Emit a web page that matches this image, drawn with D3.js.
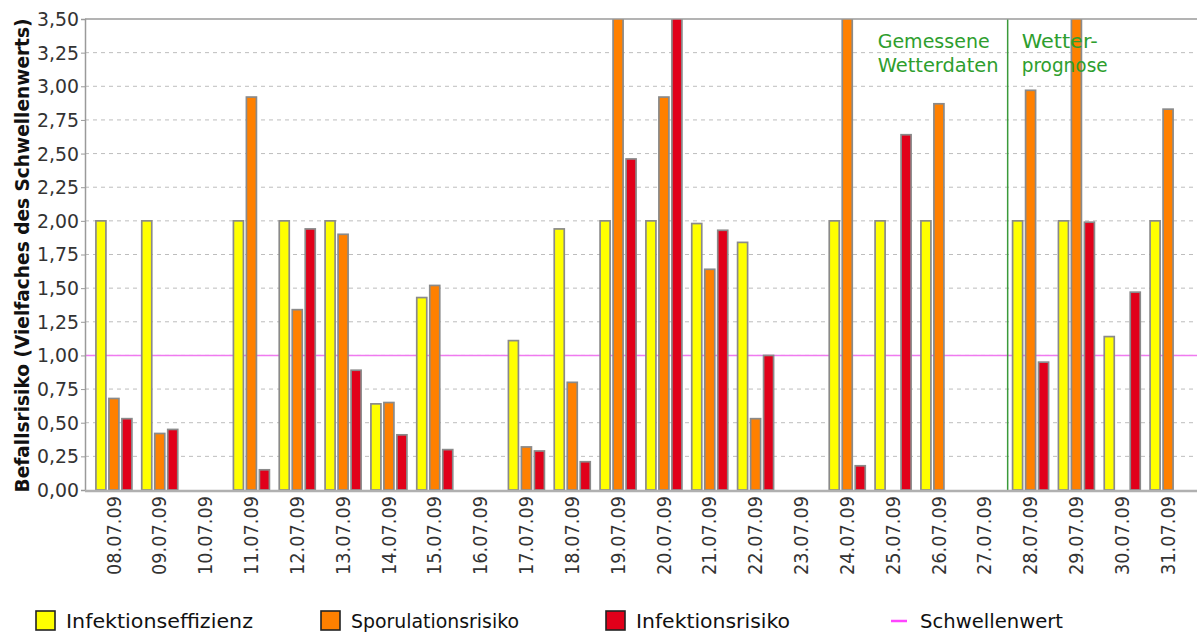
<!DOCTYPE html>
<html><head><meta charset="utf-8">
<script src="https://cdn.jsdelivr.net/npm/d3@7"></script>
<style>
body{margin:0;background:#fff;}
text{font-family:"DejaVu Sans",sans-serif;}
</style></head>
<body><svg id="c" width="1197" height="633"></svg>
<script>
const dates = ["08.07.09","09.07.09","10.07.09","11.07.09","12.07.09","13.07.09","14.07.09","15.07.09","16.07.09","17.07.09","18.07.09","19.07.09","20.07.09","21.07.09","22.07.09","23.07.09","24.07.09","25.07.09","26.07.09","27.07.09","28.07.09","29.07.09","30.07.09","31.07.09"];
const infektionseffizienz = [2.00,2.00,0,2.00,2.00,2.00,0.64,1.43,0,1.11,1.94,2.00,2.00,1.98,1.84,0,2.00,2.00,2.00,0,2.00,2.00,1.14,2.00];
const sporulationsrisiko  = [0.68,0.42,0,2.92,1.34,1.90,0.65,1.52,0,0.32,0.80,3.80,2.92,1.64,0.53,0,3.80,0,2.87,0,2.97,3.80,0,2.83];
const infektionsrisiko    = [0.53,0.45,0,0.15,1.94,0.89,0.41,0.30,0,0.29,0.21,2.46,3.80,1.93,1.00,0,0.18,2.64,0,0,0.95,1.99,1.47,0];
const schwellenwert = 1.0;
const yTicks = [0,0.25,0.5,0.75,1,1.25,1.5,1.75,2,2.25,2.5,2.75,3,3.25,3.5];
const seriesNames = ["Infektionseffizienz","Sporulationsrisiko","Infektionsrisiko"];
const thresholdName = "Schwellenwert";
const seriesColors = ["#ffff00","#ff8000","#e1001a"];
const forecastStart = "28.07.09";
const leftNote = ["Gemessene","Wetterdaten"];
const rightNote = ["Wetter-","prognose"];
const yTitle = "Befallsrisiko (Vielfaches des Schwellenwerts)";

const svg = d3.select("#c");
const L = 85, T = 19, B = 490, R = 1197;
const x = d3.scaleBand().domain(dates).range([91, 1191]).padding(0);
const xi = d3.scaleBand().domain(seriesNames).range([0, 36]).paddingInner(0.23).paddingOuter(0);
const y = d3.scaleLinear().domain([0, 3.5]).range([B, T]);

// width helper: condensed look via textLength
const fit = (sel, w) => sel.attr("textLength", w).attr("lengthAdjust", "spacingAndGlyphs");

svg.append("defs").append("clipPath").attr("id","pc").append("rect")
  .attr("x",L).attr("y",T).attr("width",R-L).attr("height",B-T);

// gridlines
svg.append("g").selectAll("line").data(yTicks.filter(v=>v>0 && v<3.5)).join("line")
  .attr("x1",L).attr("x2",R).attr("y1",d=>y(d)).attr("y2",d=>y(d))
  .attr("stroke","#bdbdbd").attr("stroke-width",1).attr("stroke-dasharray","4,4");

// threshold line
svg.append("line").attr("x1",L).attr("x2",R).attr("y1",y(schwellenwert)).attr("y2",y(schwellenwert))
  .attr("stroke","#f07af0").attr("stroke-width",1.5);

// bars
const data = [infektionseffizienz, sporulationsrisiko, infektionsrisiko];
const gb = svg.append("g").attr("clip-path","url(#pc)");
seriesNames.forEach((s,si)=>{
  const arr = data[si];
  gb.append("g").selectAll("rect").data(dates.map((d,i)=>({d,v:arr[i]})).filter(o=>o.v>0)).join("rect")
    .attr("x",o=>x(o.d)+x.bandwidth()/2-18+xi(s))
    .attr("width",xi.bandwidth())
    .attr("y",o=>y(o.v))
    .attr("height",o=>B-y(o.v))
    .attr("fill",seriesColors[si])
    .attr("stroke","#8a8a8a").attr("stroke-width",1.7);
});

// forecast marker
const mx = x(forecastStart);
svg.append("line").attr("x1",mx).attr("x2",mx).attr("y1",T).attr("y2",B)
  .attr("stroke","#3a9a3a").attr("stroke-width",1.5);
const noteW = {"Gemessene":112,"Wetterdaten":121,"Wetter-":76,"prognose":86};
[[leftNote, mx-130],[rightNote, mx+14]].forEach(([lines, lx])=>{
  lines.forEach((t,i)=>{
    fit(svg.append("text").attr("x",lx).attr("y",48+i*24).attr("font-size",19)
      .attr("fill","#2e9e2e").text(t), noteW[t]);
  });
});

// top frame
svg.append("line").attr("x1",L).attr("x2",R).attr("y1",T).attr("y2",T).attr("stroke","#9a9a9a").attr("stroke-width",1.5);

// y axis
const ya = svg.append("g").attr("transform",`translate(${L},0)`)
  .call(d3.axisLeft(y).tickValues(yTicks).tickSize(4).tickPadding(2).tickFormat(v=>d3.format(".2f")(v).replace(".",",")));
ya.select(".domain").attr("stroke","#9a9a9a").attr("stroke-width",1.5);
ya.selectAll(".tick line").attr("stroke","#9a9a9a");
ya.selectAll(".tick text").attr("font-size",19).attr("fill","#333").attr("font-family","DejaVu Sans, sans-serif")
  .attr("dy","0.34em").attr("textLength",42).attr("lengthAdjust","spacingAndGlyphs");

// x axis
const xa = svg.append("g").attr("transform",`translate(0,${B})`)
  .call(d3.axisBottom(x).tickSize(0).tickPadding(0));
xa.select(".domain").attr("stroke","#b0b0b0").attr("stroke-width",2.5).attr("d",`M${L},1H${R}`);
xa.selectAll(".tick text").attr("font-size",19).attr("fill","#333").attr("font-family","DejaVu Sans, sans-serif")
  .attr("text-anchor","end").attr("dy","0.35em")
  .attr("transform","translate(0,6) rotate(-90)").attr("x",0).attr("y",0)
  .attr("textLength",79).attr("lengthAdjust","spacingAndGlyphs");

// y title
fit(svg.append("text").attr("transform",`translate(29,${(T+B)/2+1}) rotate(-90)`)
  .attr("text-anchor","middle").attr("font-weight","bold").attr("font-size",19).attr("fill","#111")
  .text(yTitle), 474);

// legend
const legX = [35, 320, 605, 890];
const legTextW = [187, 168, 154, 143];
const lg = svg.append("g");
seriesNames.forEach((s,i)=>{
  lg.append("rect").attr("x",legX[i]+1).attr("y",611).attr("width",19).attr("height",19)
    .attr("fill",seriesColors[i]).attr("stroke","#222").attr("stroke-width",1.6);
  fit(lg.append("text").attr("x",legX[i]+31).attr("y",628).attr("font-size",19).attr("fill","#111").text(s), legTextW[i]);
});
lg.append("line").attr("x1",legX[3]+1).attr("x2",legX[3]+17).attr("y1",621).attr("y2",621).attr("stroke","#ff44ff").attr("stroke-width",2.5);
fit(lg.append("text").attr("x",legX[3]+30).attr("y",628).attr("font-size",19).attr("fill","#111").text(thresholdName), legTextW[3]);
</script></body></html>
